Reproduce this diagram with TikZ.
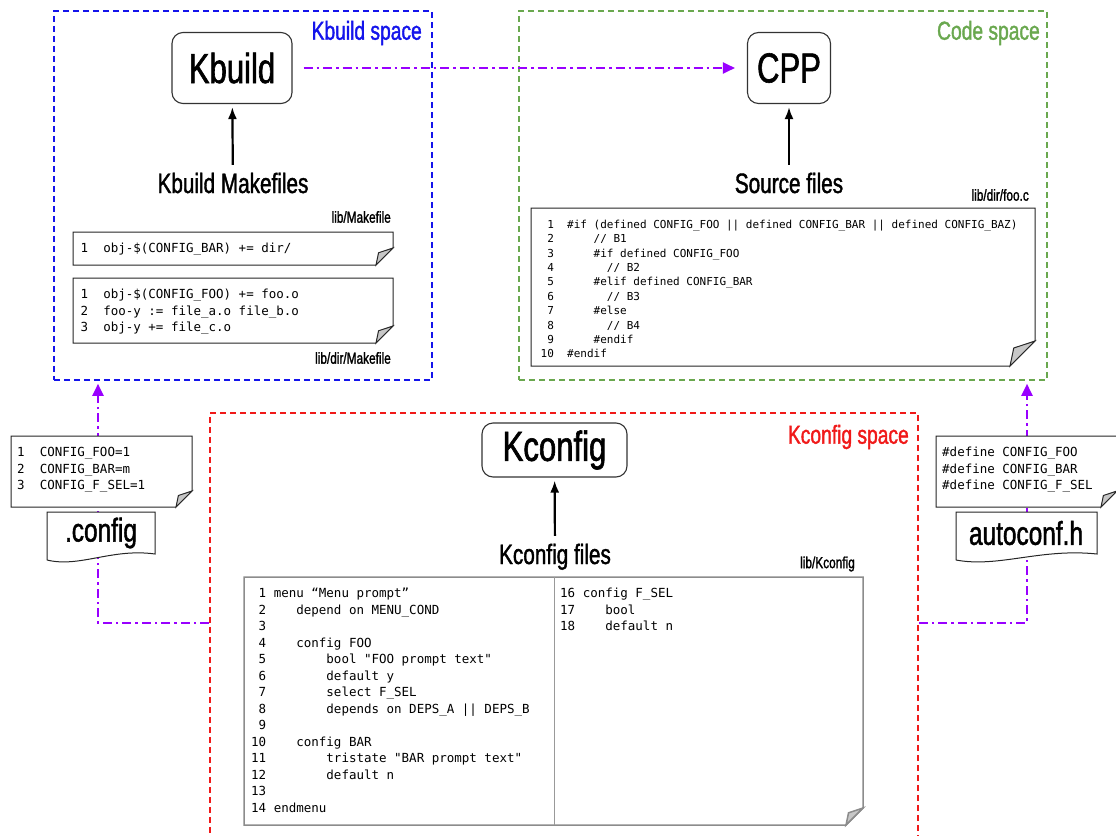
\documentclass[tikz,border=0pt]{standalone}
\usepackage{fontspec}
\usetikzlibrary{arrows.meta,calc}
\newfontfamily\condfont[FakeStretch=0.74,FakeBold=1.4]{Liberation Sans}
\newfontfamily\codefont{DejaVu Sans Mono}
\definecolor{kbblue}{RGB}{20,20,235}
\definecolor{cdgreen}{RGB}{106,168,79}
\definecolor{kcred}{RGB}{240,25,25}
\definecolor{flowviolet}{RGB}{153,0,255}
\newcommand\pad{\hphantom{0}}
% folded page: [style](x1,y1)(x2,y2){fold}
\def\docpage[#1](#2,#3)(#4,#5)#6{%
  \draw[#1] (#2,#3) -- (#4,#3) -- (#4,#5-#6) -- (#4-#6,#5) -- (#2,#5) -- cycle;
  \draw[#1, fill=black!22] (#4,#5-#6) -- (#4-0.85*#6,#5-0.72*#6) -- (#4-#6,#5) -- cycle;}
% page with a wavy bottom edge
\def\wavypage[#1](#2,#3)(#4,#5){%
  \draw[#1] (#2,#5-2) -- (#2,#3) -- (#4,#3) -- (#4,#5-8)
    .. controls ({#2+0.6*(#4-#2)},{#5-14}) and ({#2+0.3*(#4-#2)},{#5+6}) .. (#2,#5-2);}

\begin{document}
\begin{tikzpicture}[x=1pt,y=-1pt,
    spacebox/.style={draw=#1, line width=1.8pt, dash pattern=on 6pt off 4pt, anchor=north west, inner sep=0pt},
    spacelabel/.style={text=#1, font=\condfont\fontsize{26}{30}\selectfont, anchor=east, inner sep=0pt},
    toolbox/.style={draw=black!80, line width=1.1pt, rounded corners=11pt, font=\condfont\fontsize{42}{48}\selectfont, inner sep=0pt},
    filelabel/.style={font=\condfont\fontsize{28}{32}\selectfont, text height=20pt, text depth=6pt, inner xsep=2pt, inner ysep=8pt},
    namelabel/.style={font=\condfont\fontsize{33}{36}\selectfont, inner sep=0pt},
    pathlabel/.style={font=\condfont\fontsize{16}{18}\selectfont, anchor=east, inner sep=0pt},
    docline/.style={draw=black!85, fill=white, line width=1pt},
    code/.style={font=\codefont\fontsize{12.5}{16.5}\selectfont, align=left, anchor=north west, inner sep=0pt},
    smallcode/.style={font=\codefont\fontsize{11}{14.4}\selectfont, align=left, anchor=north west, inner sep=0pt},
    buildarrow/.style={line width=2.2pt, -{Latex[length=12pt,width=9pt]}, shorten >=3pt},
    cfgflow/.style={draw=flowviolet, line width=2.2pt, dash pattern=on 9pt off 4pt on 2.5pt off 4pt, -{Triangle[length=12pt,width=11pt]}}]

  \useasboundingbox (0,0) rectangle (1116,835);

  %%% spaces
  \node[spacebox=kbblue, minimum width=378pt, minimum height=369pt] (kbspace) at (53,10) {};
  \node[spacebox=cdgreen, minimum width=528pt, minimum height=369pt] (cdspace) at (518,10) {};
  \node[spacebox=kcred, minimum width=708pt, minimum height=450pt] (kcspace) at (209,412) {};

  \node[spacelabel=kbblue] (kbtitle) at (422,33) {Kbuild space};
  \node[spacelabel=cdgreen] (cdtitle) at (1040,33) {Code space};
  \node[spacelabel=kcred] (kctitle) at (909,437) {Kconfig space};

  %%% tools
  \node[toolbox, minimum width=120pt, minimum height=71pt] (kbuild) at (232,68) {Kbuild};
  \node[toolbox, minimum width=83pt, minimum height=71pt] (cpp) at (789,68) {CPP};
  \node[toolbox, minimum width=145pt, minimum height=54pt] (kconfig) at (554.5,450) {Kconfig};

  \node[filelabel] (mkfiles) at (233,186) {Kbuild Makefiles};
  \node[filelabel] (srcfiles) at (789,186) {Source files};
  \node[filelabel] (kcfiles) at (555,557) {Kconfig files};

  \draw[buildarrow] (mkfiles) -- (kbuild);
  \draw[buildarrow] (srcfiles) -- (cpp);
  \draw[buildarrow] (kcfiles) -- (kconfig);

  %%% config flow
  \draw[cfgflow, shorten <=11pt, shorten >=12pt] (kbuild) -- (cpp);
  \coordinate (cfgturn) at (98,623);
  \coordinate (hdrturn) at (1027,623);
  \draw[cfgflow, shorten >=3pt] (kcspace.west |- cfgturn) -- (cfgturn) -- (cfgturn |- kbspace.south);
  \draw[cfgflow, shorten >=3pt] (kcspace.east |- hdrturn) -- (hdrturn) -- (hdrturn |- cdspace.south);

  %%% Makefiles
  \node[pathlabel] (mkpath) at (391,217) {lib/Makefile};
  \docpage[docline](73,232)(393,265){17}
  \node[code] (mkcode) at (80.5,241) {\strut 1~~obj-\$(CONFIG\_BAR) += dir/};
  \docpage[docline](73,278)(393,343){17}
  \node[code] (dirmkcode) at (80.5,287) {\strut 1~~obj-\$(CONFIG\_FOO) += foo.o\\
    2~~foo-y := file\_a.o file\_b.o\\
    3~~obj-y += file\_c.o};
  \node[pathlabel] (dirmkpath) at (391,358) {lib/dir/Makefile};

  %%% source
  \node[pathlabel] (foopath) at (1029,195) {lib/dir/foo.c};
  \docpage[docline](531,208)(1035,366){25}
  \node[smallcode] (foocode) at (540.5,218) {\strut\pad1~~\#if (defined CONFIG\_FOO || defined CONFIG\_BAR || defined CONFIG\_BAZ)\\
    \pad2~~~~~~// B1\\
    \pad3~~~~~~\#if defined CONFIG\_FOO\\
    \pad4~~~~~~~~// B2\\
    \pad5~~~~~~\#elif defined CONFIG\_BAR\\
    \pad6~~~~~~~~// B3\\
    \pad7~~~~~~\#else\\
    \pad8~~~~~~~~// B4\\
    \pad9~~~~~~\#endif\\
    10~~\#endif};

  %%% Kconfig
  \node[pathlabel] (kcpath) at (855,564) {lib/Kconfig};
  \docpage[docline, draw=black!45, line width=1.5pt](244,577)(863,825){17}
  \draw[black!40, line width=1pt] (554,577) -- (554,825);
  \node[code] (kcleft) at (251,586) {\strut\pad1 menu “Menu prompt”\\
    \pad2~~~~depend on MENU\_COND\\
    \pad3\\
    \pad4~~~~config FOO\\
    \pad5~~~~~~~~bool "FOO prompt text"\\
    \pad6~~~~~~~~default y\\
    \pad7~~~~~~~~select F\_SEL\\
    \pad8~~~~~~~~depends on DEPS\_A || DEPS\_B\\
    \pad9\\
    10~~~~config BAR\\
    11~~~~~~~~tristate "BAR prompt text"\\
    12~~~~~~~~default n\\
    13\\
    14 endmenu};
  \node[code] (kcright) at (560,586) {\strut 16 config F\_SEL\\
    17~~~~bool\\
    18~~~~default n};

  %%% .config
  \docpage[docline](11,436)(192,507){16}
  \node[code] (cfgcode) at (17,445) {\strut 1~~CONFIG\_FOO=1\\
    2~~CONFIG\_BAR=m\\
    3~~CONFIG\_F\_SEL=1};
  \wavypage[docline](47,512)(155,562)
  \node[namelabel] (dotconfig) at (101,533) {.config};

  %%% autoconf.h
  \docpage[docline](936,436)(1117,507){16}
  \node[code] (hdrcode) at (942,445) {\strut\#define CONFIG\_FOO\\
    \#define CONFIG\_BAR\\
    \#define CONFIG\_F\_SEL};
  \wavypage[docline](956,512)(1097,562)
  \node[namelabel] (autoconf) at (1026,533) {autoconf.h};
\end{tikzpicture}
\end{document}
